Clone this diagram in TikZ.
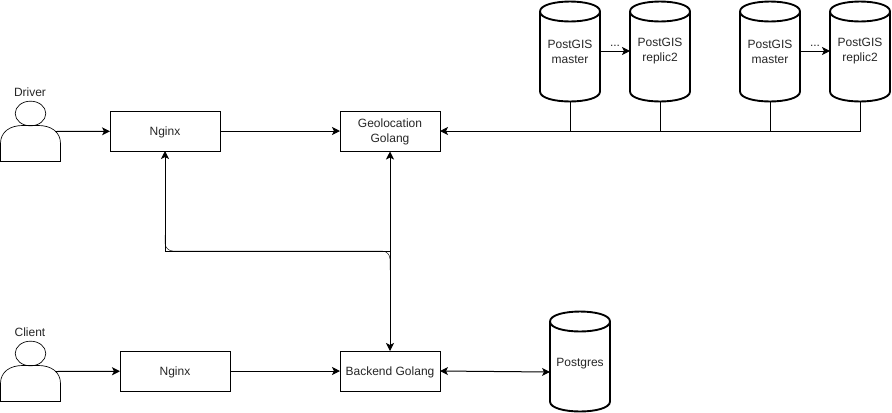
\documentclass[tikz,border=0pt]{standalone}
\usepackage{fontspec}
\setmainfont{Liberation Sans}
\usetikzlibrary{arrows.meta,shapes.geometric}
\begin{document}
\begin{tikzpicture}[x=.75pt,y=-.75pt,>={Stealth[length=6pt,width=6pt,inset=1.5pt]},
    every node/.style={font=\fontsize{9}{11.25}\selectfont,text=black!85,align=center,outer sep=0pt},
    box/.style={draw,line width=.75pt,minimum width=#1,minimum height=30pt,inner sep=0pt},
    db/.style={minimum width=45pt,minimum height=75pt,inner sep=0pt},
    wire/.style={line width=.75pt},
    txt/.style={inner sep=0pt},
    low/.style={text height=8.2pt,text depth=1pt},
    person/.pic={
      \node[draw,ellipse,line width=.5pt,minimum width=23pt,minimum height=18.5pt,inner sep=0pt] (-head) at (0,0) {};
      \draw[line width=.5pt] (-30,48) -- (-30,30) .. controls (-30,18) and (-20,12) .. (-8,12)
        -- (8,12) .. controls (20,12) and (30,18) .. (30,30) -- (30,48) -- cycle;
      \coordinate (-hand) at (25,18);
    }]
    \useasboundingbox (0,0) rectangle (892,412);

    % the people
    \node[txt,low] (drivertext) at (30,91.5) {Driver};
    \pic (driver) at (30.5,113.5) {person};
    \node[txt,low] (clienttext) at (30,331.5) {Client};
    \pic (client) at (30.5,353.5) {person};

    % the boxes
    \node[box=82.5pt,low] (nginxa) at (165,131) {Nginx};
    \node[box=75pt] (geo) at (390,131.5) {Geolocation\\Golang};
    \node[box=82.5pt,low] (nginxb) at (175,371) {Nginx};
    \node[box=75pt,low] (backend) at (390,371) {Backend Golang};

    % the databases
    \node[db] (pga) at (570,51.5) {PostGIS\\master};
    \node[db] (pgb) at (660,51.5) {PostGIS\\replic2};
    \node[db] (pgc) at (770,51.5) {PostGIS\\master};
    \node[db] (pgd) at (860,51.5) {PostGIS\\replic2};
    \node[db,low] (postgres) at (580,361.5) {Postgres};
    \foreach \db in {pga,pgb,pgc,pgd,postgres}
      \draw[line width=1.4pt,shift={(\db.center)}] (-30,-40) .. controls (-30,-53.3) and (30,-53.3) .. (30,-40)
        -- (30,40) .. controls (30,53.3) and (-30,53.3) .. (-30,40) -- cycle
        (-30,-40) .. controls (-30,-26.7) and (30,-26.7) .. (30,-40);

    % the connectors
    \draw[->,wire] (driver-hand) -- (nginxa);
    \draw[->,wire] (nginxa) -- (geo.west |- nginxa);
    \draw[->,wire] (client-hand) -- (nginxb);
    \draw[->,wire] (nginxb) -- (backend);
    \draw[->,wire] (pgd.south) |- (geo.east |- nginxa);
    \foreach \db in {pga,pgb,pgc}
      \draw[wire] (\db.south) -- (\db.south |- nginxa);
    \draw[->,wire] (pga.east |- 0,51) -- node[txt,above=3pt]{...} (pgb.west |- 0,51);
    \draw[->,wire] (pgc.east |- 0,51) -- node[txt,above=3pt]{...} (pgd.west |- 0,51);
    \coordinate (corner) at (backend.north |- 0,251);
    \draw[->,wire] (corner) -| (nginxa.south);
    \draw[->,wire] (corner) -- (geo.south);
    \draw[->,wire] (corner) -- (backend.north);
    \draw[line width=.3pt,rounded corners=6pt] (nginxa.south |- 0,235) |- (corner) -- (backend.north |- 0,270);
    \draw[<->,wire] (backend.east) -- (postgres.west |- 0,372);
  \end{tikzpicture}
\end{document}
